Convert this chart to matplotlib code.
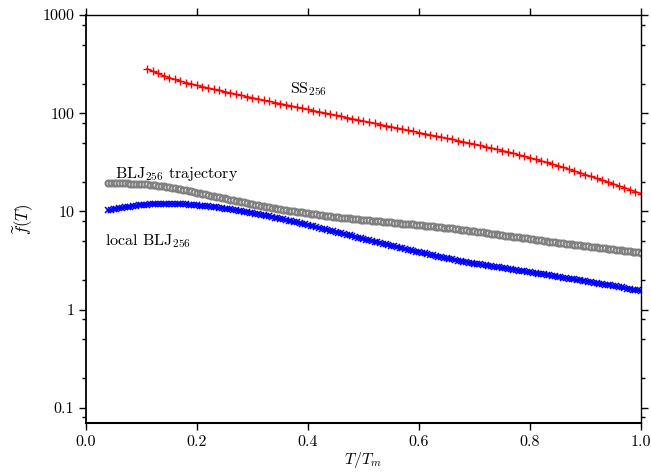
import numpy as np
import matplotlib
matplotlib.use("Agg")
import matplotlib.pyplot as plt
from matplotlib.ticker import FixedLocator, FixedFormatter, LogLocator, NullFormatter

plt.rcParams['font.family'] = 'serif'
plt.rcParams['font.serif'] = ['cmr10', 'DejaVu Serif']
plt.rcParams['mathtext.fontset'] = 'cm'
plt.rcParams['axes.unicode_minus'] = False

# SS_256 (red +), sampled from T/Tm = 0.11 to 1.00
ss_start, ss_end = 0.11, 1.00
ss_vals = [283.1, 267.9, 254.1, 241.0, 230.1, 220.8, 212.3, 205.1, 198.6, 192.3,
           186.6, 181.1, 175.8, 170.6, 165.6, 161.1, 156.3, 151.7, 147.6, 143.5,
           139.6, 135.8, 132.1, 128.5, 125.3, 121.9, 118.6, 115.3, 112.2, 109.1,
           106.2, 103.3, 100.7, 97.9, 95.3, 92.7, 90.2, 87.7, 85.5, 83.2,
           80.9, 78.9, 76.7, 74.6, 72.6, 70.8, 68.9, 67.0, 65.3, 63.5,
           61.8, 60.1, 58.6, 57.0, 55.5, 54.1, 52.6, 51.1, 49.7, 48.2,
           46.9, 45.5, 44.2, 43.0, 41.7, 40.4, 39.0, 37.7, 36.4, 35.2,
           33.9, 32.7, 31.5, 30.3, 29.2, 28.1, 26.9, 25.8, 24.8, 23.7,
           22.7, 21.7, 20.8, 19.9, 19.1, 18.2, 17.5, 16.7, 15.9, 15.2]

# BLJ_256 trajectory (grey circles), T/Tm = 0.04 .. 1.00
traj_start, traj_end = 0.04, 1.00
traj_vals = [19.36, 19.36, 19.36, 19.36, 19.32, 19.32, 19.28, 19.28, 19.23, 19.19,
             19.14, 19.10, 19.05, 18.97, 18.84, 18.71, 18.58, 18.45, 18.28, 18.11,
             17.95, 17.78, 17.58, 17.42, 17.22, 17.02, 16.83, 16.60, 16.37, 16.14,
             15.96, 15.74, 15.52, 15.31, 15.10, 14.89, 14.69, 14.49, 14.29, 14.13,
             13.93, 13.74, 13.55, 13.37, 13.18, 13.00, 12.82, 12.65, 12.50, 12.33,
             12.19, 12.02, 11.89, 11.72, 11.59, 11.43, 11.30, 11.17, 11.04, 10.89,
             10.76, 10.64, 10.52, 10.42, 10.30, 10.21, 10.12, 10.02, 9.93, 9.84,
             9.75, 9.66, 9.57, 9.48, 9.40, 9.31, 9.23, 9.14, 9.06, 8.97,
             8.89, 8.83, 8.77, 8.71, 8.65, 8.59, 8.53, 8.47, 8.41, 8.36,
             8.32, 8.26, 8.22, 8.17, 8.13, 8.07, 8.02, 7.98, 7.93, 7.87,
             7.82, 7.78, 7.73, 7.67, 7.64, 7.59, 7.53, 7.50, 7.45, 7.40,
             7.36, 7.31, 7.26, 7.21, 7.16, 7.13, 7.08, 7.03, 6.98, 6.93,
             6.90, 6.85, 6.81, 6.76, 6.71, 6.65, 6.59, 6.53, 6.47, 6.41,
             6.37, 6.31, 6.25, 6.19, 6.14, 6.10, 6.04, 5.98, 5.93, 5.87,
             5.83, 5.78, 5.73, 5.68, 5.62, 5.57, 5.53, 5.48, 5.43, 5.38,
             5.33, 5.30, 5.25, 5.20, 5.15, 5.11, 5.06, 5.01, 4.97, 4.93,
             4.89, 4.85, 4.82, 4.78, 4.74, 4.70, 4.67, 4.62, 4.59, 4.56,
             4.52, 4.49, 4.45, 4.42, 4.38, 4.35, 4.32, 4.28, 4.25, 4.21,
             4.18, 4.15, 4.11, 4.08, 4.05, 4.02, 3.99, 3.95, 3.93, 3.89,
             3.86, 3.84, 3.80]

# local BLJ_256 (blue x), T/Tm = 0.04 .. 1.00
loc_start, loc_end = 0.04, 1.00
loc_vals = [10.28, 10.40, 10.52, 10.64, 10.74, 10.86, 10.96, 11.09, 11.19, 11.30,
            11.40, 11.51, 11.59, 11.67, 11.75, 11.80, 11.86, 11.89, 11.91, 11.94,
            11.94, 11.94, 11.91, 11.91, 11.89, 11.86, 11.83, 11.80, 11.78, 11.72,
            11.67, 11.61, 11.56, 11.48, 11.40, 11.32, 11.25, 11.17, 11.09, 10.99,
            10.89, 10.79, 10.69, 10.59, 10.50, 10.38, 10.28, 10.16, 10.05, 9.95,
            9.84, 9.73, 9.59, 9.48, 9.35, 9.25, 9.12, 9.02, 8.89, 8.77,
            8.65, 8.53, 8.41, 8.30, 8.18, 8.07, 7.96, 7.83, 7.73, 7.60,
            7.50, 7.38, 7.26, 7.14, 7.03, 6.92, 6.79, 6.68, 6.58, 6.47,
            6.37, 6.27, 6.17, 6.07, 5.97, 5.87, 5.78, 5.69, 5.60, 5.51,
            5.42, 5.33, 5.25, 5.16, 5.08, 5.00, 4.92, 4.85, 4.78, 4.70,
            4.62, 4.55, 4.49, 4.42, 4.35, 4.28, 4.22, 4.15, 4.08, 4.03,
            3.96, 3.90, 3.85, 3.78, 3.73, 3.67, 3.62, 3.56, 3.52, 3.47,
            3.42, 3.37, 3.33, 3.28, 3.24, 3.20, 3.16, 3.12, 3.08, 3.05,
            3.01, 2.98, 2.94, 2.91, 2.88, 2.85, 2.82, 2.79, 2.77, 2.74,
            2.71, 2.69, 2.66, 2.63, 2.61, 2.58, 2.55, 2.52, 2.50, 2.47,
            2.45, 2.42, 2.40, 2.37, 2.35, 2.32, 2.30, 2.28, 2.25, 2.23,
            2.21, 2.18, 2.16, 2.14, 2.12, 2.09, 2.07, 2.05, 2.03, 2.01,
            1.99, 1.97, 1.95, 1.93, 1.91, 1.88, 1.86, 1.84, 1.82, 1.80,
            1.78, 1.76, 1.74, 1.72, 1.70, 1.68, 1.66, 1.64, 1.62, 1.60,
            1.58, 1.57, 1.55]

x_ticks = [0.0, 0.2, 0.4, 0.6, 0.8, 1.0]
x_ticklabels = ['0.0', '0.2', '0.4', '0.6', '0.8', '1.0']
y_ticks = [0.1, 1, 10, 100, 1000]
y_ticklabels = ['0.1', '1', '10', '100', '1000']

ss_x = np.linspace(ss_start, ss_end, len(ss_vals))
traj_x = np.linspace(traj_start, traj_end, len(traj_vals))
loc_x = np.linspace(loc_start, loc_end, len(loc_vals))

fig = plt.figure(figsize=(6.51, 4.72), dpi=100)
ax = fig.add_axes([0.132, 0.1038, 0.8526, 0.8644])

ax.plot(loc_x, loc_vals, color='blue', marker='x', ms=4.6, mew=1.1, lw=2.0)
ax.plot(traj_x, traj_vals, color='#808080', marker='o', ms=4.2, mew=1.6,
        mfc='white', mec='#808080', lw=1.0)
ax.plot(ss_x, ss_vals, color='red', marker='+', ms=6, mew=1.0, lw=1.0)

ax.set_yscale('log')
ax.set_xlim(0.0, 1.0)
ax.set_ylim(0.07, 1000)

ax.yaxis.set_major_locator(FixedLocator(y_ticks))
ax.yaxis.set_major_formatter(FixedFormatter(y_ticklabels))
ax.yaxis.set_minor_locator(LogLocator(base=10, subs=(2.0, 5.0, 8.0)))
ax.yaxis.set_minor_formatter(NullFormatter())
ax.set_xticks(x_ticks)
ax.set_xticklabels(x_ticklabels)

ax.tick_params(which='both', direction='out', top=True, right=True,
               labelsize=11.5, width=1.0)
ax.tick_params(which='major', length=5)
ax.tick_params(which='minor', length=3)
for s in ax.spines.values():
    s.set_linewidth(1.0)
ax.spines['bottom'].set_linewidth(1.5)
ax.spines['left'].set_linewidth(1.3)

ax.set_xlabel(r'$T/T_m$', fontsize=11.5, labelpad=1)
ax.set_ylabel(r'$\widetilde{f}(T)$', fontsize=12, labelpad=5)

ax.text(0.367, 177, r'SS$_{256}$', fontsize=11.5, va='center', ha='left')
ax.text(0.052, 24, r'BLJ$_{256}$ trajectory', fontsize=11.5, va='center', ha='left')
ax.text(0.034, 5.0, r'local BLJ$_{256}$', fontsize=11.5, va='center', ha='left')

fig.savefig('out.png', dpi=100)
